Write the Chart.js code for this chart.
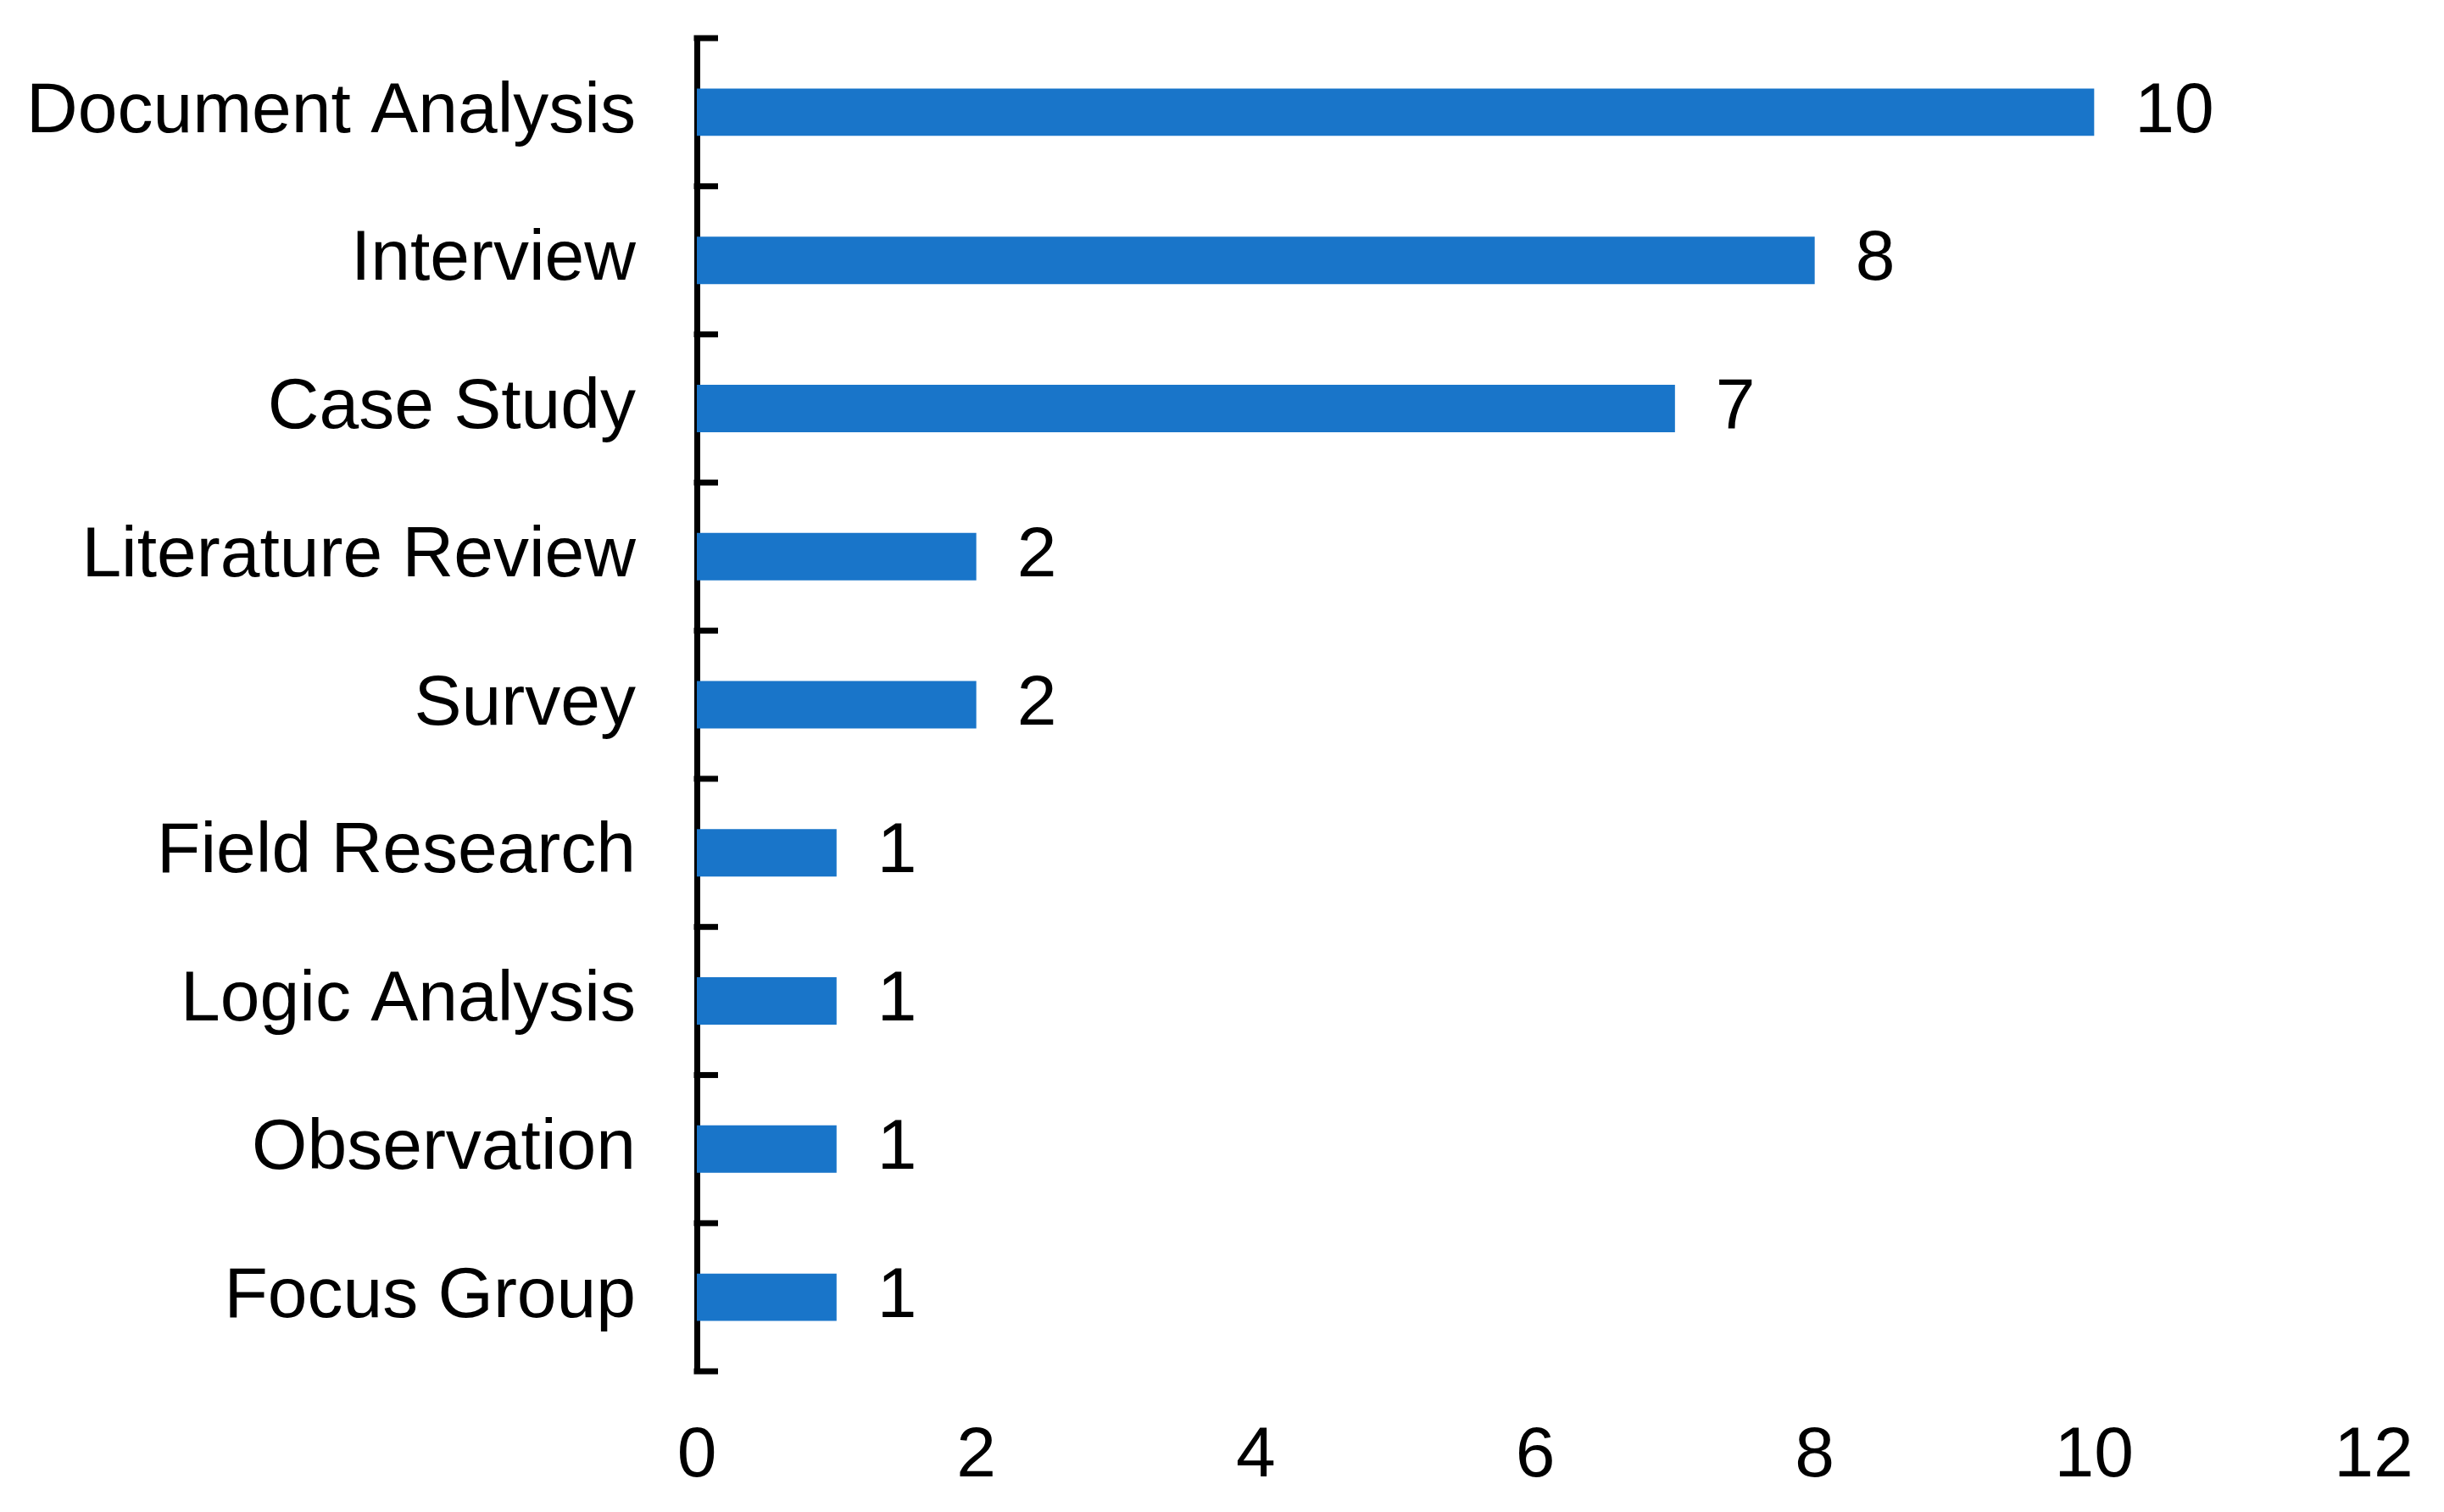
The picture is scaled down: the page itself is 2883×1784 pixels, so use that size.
<!DOCTYPE html>
<html>
<head>
<meta charset="utf-8">
<script src="https://cdn.jsdelivr.net/npm/chart.js@4.4.0/dist/chart.umd.min.js"></script>
<style>
  body { margin: 0; background: #fff; }
  #wrap { width: 2883px; height: 1784px; position: relative; }
</style>
</head>
<body>
<div id="wrap"><canvas id="myChart"></canvas></div>
<script>
const methods = [
  'Document Analysis',
  'Interview',
  'Case Study',
  'Literature Review',
  'Survey',
  'Field Research',
  'Logic Analysis',
  'Observation',
  'Focus Group'
];
const counts = [10, 8, 7, 2, 2, 1, 1, 1, 1];
const xTicks = [0, 2, 4, 6, 8, 10, 12];

const barColor = 'rgb(25, 117, 201)';
const fontFamily = '"Liberation Sans", Arial, sans-serif';

Chart.defaults.font.family = fontFamily;
Chart.defaults.font.size = 84;
Chart.defaults.color = '#000';

// ticks on the y axis point inward, at the category boundaries
const innerTicks = {
  id: 'innerTicks',
  afterDraw(chart) {
    const y = chart.scales.y;
    const ctx = chart.ctx;
    ctx.save();
    ctx.strokeStyle = '#000';
    ctx.lineWidth = 7;
    for (let i = 0; i <= methods.length; i++) {
      const py = y.getPixelForValue(i - 0.5);
      ctx.beginPath();
      ctx.moveTo(y.right - 3.5, py);
      ctx.lineTo(y.right + 25, py);
      ctx.stroke();
    }
    ctx.restore();
  }
};

// value labels at the end of each bar
const valueLabels = {
  id: 'valueLabels',
  afterDatasetsDraw(chart) {
    const ctx = chart.ctx;
    const meta = chart.getDatasetMeta(0);
    ctx.save();
    ctx.font = '84px ' + fontFamily;
    ctx.fillStyle = '#000';
    ctx.textAlign = 'left';
    ctx.textBaseline = 'middle';
    meta.data.forEach((bar, i) => {
      ctx.fillText(String(counts[i]), bar.x + 48, bar.y);
    });
    ctx.restore();
  }
};

const config = {
  type: 'bar',
  data: {
    labels: methods,
    datasets: [{
      data: counts,
      backgroundColor: barColor,
      borderWidth: 0,
      barPercentage: 0.32,
      categoryPercentage: 1
    }]
  },
  options: {
    indexAxis: 'y',
    responsive: true,
    maintainAspectRatio: false,
    animation: false,
    layout: { padding: { top: 45, right: 83, left: 0, bottom: 0 } },
    plugins: {
      legend: { display: false },
      tooltip: { enabled: false }
    },
    scales: {
      x: {
        min: 0,
        max: 12,
        afterBuildTicks: (scale) => { scale.ticks = xTicks.map(v => ({ value: v })); },
        afterFit: (scale) => {
          scale.height = 166;
          scale.paddingLeft = 0;
          scale.paddingRight = 0;
        },
        grid: { display: false, drawTicks: false },
        border: { display: false },
        ticks: { padding: 50, color: '#000' }
      },
      y: {
        afterFit: (scale) => {
          scale.width = 822;
          scale.paddingTop = 0;
          scale.paddingBottom = 0;
        },
        grid: { display: false, drawTicks: false },
        border: { display: true, color: '#000', width: 7 },
        ticks: { padding: 72, color: '#000' }
      }
    }
  },
  plugins: [innerTicks, valueLabels]
};

const myChart = new Chart(document.getElementById('myChart'), config);
</script>
</body>
</html>
